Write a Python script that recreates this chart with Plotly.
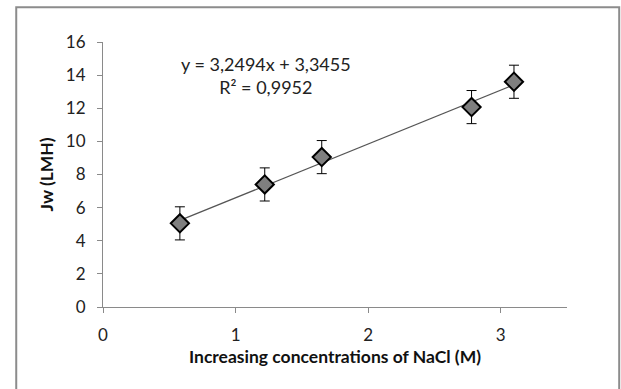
import plotly.graph_objects as go
import numpy as np

# Data
nacl_conc = [0.58, 1.22, 1.65, 2.78, 3.10]
jw_flux = [5.05, 7.40, 9.05, 12.07, 13.60]
jw_error = [1.0, 1.0, 1.0, 1.0, 1.0]

slope = 3.2494
intercept = 3.3455
r_squared = 0.9952

x_ticks = [0, 1, 2, 3]
y_ticks = [0, 2, 4, 6, 8, 10, 12, 14, 16]

FONT = "Lato"

trend_x = np.array([min(nacl_conc), max(nacl_conc)])
trend_y = slope * trend_x + intercept

fig = go.Figure()

fig.add_trace(go.Scatter(
    x=trend_x, y=trend_y, mode="lines",
    line=dict(color="#555555", width=1.2),
    hoverinfo="skip", showlegend=False,
))

fig.add_trace(go.Scatter(
    x=nacl_conc, y=jw_flux, mode="markers",
    marker=dict(symbol="diamond", size=14, color="#7f7f7f",
                line=dict(color="#000000", width=2)),
    error_y=dict(type="data", array=jw_error, visible=True,
                 color="#000000", thickness=1, width=5),
    showlegend=False,
))

eq_text = "y = " + f"{slope:.4f}".replace(".", ",") + "x + " + f"{intercept:.4f}".replace(".", ",")
r2_text = "R² = " + f"{r_squared:.4f}".replace(".", ",")

fig.add_annotation(x=(266 - 103) / 464, y=(306.7 - 51) / 264.4, xref="paper", yref="paper",
                   text=eq_text + "<br>" + r2_text, showarrow=False,
                   xanchor="center", yanchor="top", align="center",
                   font=dict(family=FONT, size=18, color="#222222"))

# y-axis title as rotated annotation
fig.add_annotation(x=(46 - 103) / 464, y=0.5, xref="paper", yref="paper",
                   text="<b>Jw (LMH)</b>", textangle=-90, showarrow=False,
                   xanchor="center", yanchor="middle",
                   font=dict(family=FONT, size=17.5, color="#111111"))

axis_common = dict(
    showline=True, linecolor="#8a8a8a", linewidth=1,
    ticks="outside", ticklen=5, tickcolor="#8a8a8a",
    showgrid=False, zeroline=False,
    tickfont=dict(family=FONT, size=17, color="#222222"),
)

fig.update_xaxes(range=[0, 3.5], tickvals=x_ticks, ticklabelstandoff=8, **axis_common,
                 title=dict(text="<b>Increasing concentrations of NaCl (M)</b>",
                            font=dict(family=FONT, size=17.5, color="#111111"),
                            standoff=6))
fig.update_yaxes(range=[0, 16], tickvals=y_ticks, ticklabelstandoff=8, **axis_common)

fig.add_shape(type="rect", xref="paper", yref="paper",
              x0=-0.187, x1=1.1125, y0=-0.5, y1=1.1316,
              line=dict(color="#8c8c8c", width=2), layer="below")

fig.update_layout(
    width=621, height=389,
    margin=dict(l=103, r=54, t=42, b=82, autoexpand=False),
    paper_bgcolor="white", plot_bgcolor="white",
)

fig.write_html("out.html")
